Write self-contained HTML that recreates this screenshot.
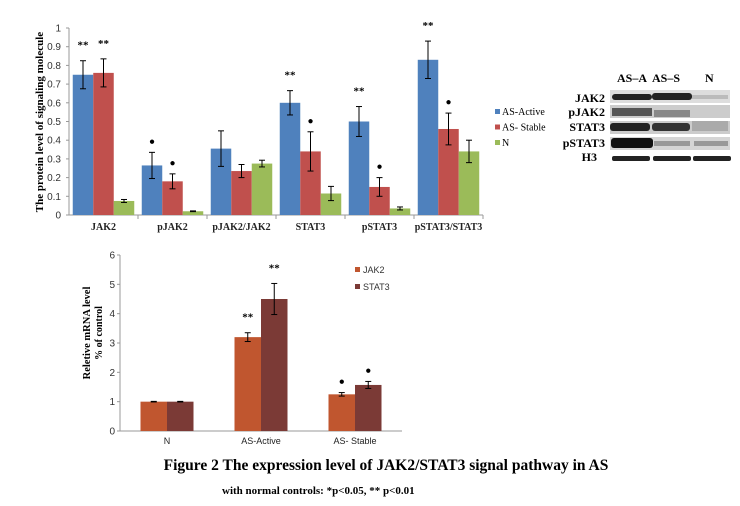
<!DOCTYPE html>
<html><head><meta charset="utf-8"><style>
body{margin:0;background:#fff;width:740px;height:506px;overflow:hidden}
svg{display:block}
.t{font-family:"Liberation Serif",serif}
.s{font-family:"Liberation Sans",sans-serif}
</style></head><body>
<svg id="fig" width="740" height="506" xmlns="http://www.w3.org/2000/svg">
<g id="topChart"></g>
<g id="botChart"></g>
<g id="blot">
 <text class="t" x="617" y="82" font-size="12" font-weight="bold">AS–A</text>
 <text class="t" x="652" y="82" font-size="12" font-weight="bold">AS–S</text>
 <text class="t" x="705" y="82" font-size="12" font-weight="bold">N</text>
 <text class="t" x="605" y="102" font-size="12" font-weight="bold" text-anchor="end">JAK2</text>
 <text class="t" x="605" y="116" font-size="12" font-weight="bold" text-anchor="end">pJAK2</text>
 <text class="t" x="605" y="131" font-size="12" font-weight="bold" text-anchor="end">STAT3</text>
 <text class="t" x="605" y="147" font-size="12" font-weight="bold" text-anchor="end">pSTAT3</text>
 <text class="t" x="597" y="161" font-size="12" font-weight="bold" text-anchor="end">H3</text>
 <rect x="610" y="90" width="120" height="13" fill="#ddd"/>
 <rect x="612" y="94" width="40" height="6" rx="3" fill="#222"/><rect x="652" y="93" width="40" height="7" rx="3" fill="#222"/><rect x="692" y="95" width="36" height="4" fill="#bbb"/>
 <rect x="610" y="105" width="120" height="13" fill="#ccc"/>
 <rect x="612" y="108" width="40" height="8" fill="#555"/><rect x="654" y="110" width="36" height="7" fill="#888"/>
 <rect x="610" y="121" width="120" height="13" fill="#ccc"/>
 <rect x="610" y="123" width="40" height="8" rx="3" fill="#222"/><rect x="652" y="123" width="38" height="8" rx="3" fill="#333"/><rect x="692" y="121" width="36" height="10" fill="#aaa"/>
 <rect x="610" y="137" width="120" height="13" fill="#d5d5d5"/>
 <rect x="611" y="138" width="42" height="10" rx="3" fill="#111"/><rect x="654" y="141" width="36" height="5" fill="#999"/><rect x="694" y="141" width="34" height="5" fill="#999"/>
 <rect x="612" y="156" width="38" height="5" rx="2" fill="#222"/><rect x="653" y="156" width="38" height="5" rx="2" fill="#222"/><rect x="693" y="156" width="38" height="5" rx="2" fill="#222"/>
</g>
<text class="t" x="386" y="470" font-size="15.5" font-weight="bold" text-anchor="middle">Figure 2 The expression level of JAK2/STAT3 signal pathway in AS</text>
<text class="t" x="222" y="494" font-size="11" font-weight="bold">with normal controls: *p&lt;0.05, ** p&lt;0.01</text>
</svg>
<script>
// ---- top chart data ----
const topCats = ["JAK2","pJAK2","pJAK2/JAK2","STAT3","pSTAT3","pSTAT3/STAT3"];
const topSeries = ["AS-Active","AS- Stable","N"];
const activeVals = [0.75,0.265,0.355,0.60,0.50,0.83];
const stableVals = [0.76,0.18,0.235,0.34,0.15,0.46];
const nVals = [0.075,0.02,0.275,0.115,0.035,0.34];
const activeErr = [0.075,0.07,0.095,0.065,0.08,0.1];
const stableErr = [0.075,0.04,0.035,0.105,0.05,0.085];
const nErr = [0.008,0.002,0.018,0.038,0.008,0.06];
const activeSig = ["**","*","","**","**","**"];
const stableSig = ["**","*","","*","*","*"];
const topTicks = [0,0.1,0.2,0.3,0.4,0.5,0.6,0.7,0.8,0.9,1];
// ---- bottom chart data ----
const botCats = ["N","AS-Active","AS- Stable"];
const botSeries = ["JAK2","STAT3"];
const jakVals = [1,3.2,1.25];
const statVals = [1,4.5,1.57];
const jakErr = [0.01,0.15,0.06];
const statErr = [0.01,0.53,0.12];
const jakSig = ["","**","*"];
const statSig = ["","**","*"];
const botTicks = [0,1,2,3,4,5,6];

const NS="http://www.w3.org/2000/svg";
function mk(parent,tag,attrs,text){const e=document.createElementNS(NS,tag);for(const k in attrs)e.setAttribute(k,attrs[k]);if(text!==undefined)e.textContent=text;parent.appendChild(e);return e;}

function drawChart(g,o){
  const y=v=>o.y0-(v-o.min)/(o.max-o.min)*(o.y0-o.y1);
  const band=(o.x1-o.x0)/o.cats.length;
  let ax=mk(g,'line',{x1:o.x0,y1:o.y0,x2:o.x0,y2:o.y1,stroke:'#999'});
  
  
  let xx=mk(g,'line',{x1:o.x0,y1:o.y0,x2:o.x1,y2:o.y0,stroke:'#999'});
  
  
  o.ticks.forEach(t=>{
    mk(g,'line',{x1:o.x0-3,x2:o.x0,y1:y(t),y2:y(t),stroke:'#999'});
    const lb=mk(g,'text',{x:o.x0-o.tickOff,y:y(t)+3.5,'font-size':10,'text-anchor':'end',fill:'#333',class:'s'},String(t));
    
    
  });
  o.cats.forEach((c,i)=>{
    const gx=o.x0+band*i;
    if(o.catTicks) mk(g,'line',{x1:gx+band,x2:gx+band,y1:o.y0,y2:o.y0+4,stroke:'#999'});
    const lb=mk(g,'text',{x:gx+band/2,y:o.y0+o.labOff,'font-size':o.catFs,'text-anchor':'middle','font-weight':o.catBold?'bold':'normal',class:o.catBold?'t':'s',fill:'#222'},c);
    
    
    const n=o.vals.length,start=gx+(band-n*o.bw)/2;
    o.vals.forEach((arr,s)=>{
      const bx=start+s*o.bw,v=arr[i],e=o.errs[s][i];
      const r=mk(g,'rect',{x:bx,y:y(v),width:o.bw,height:o.y0-y(v),fill:o.colors[s]});
      
      
      const cx=bx+o.bw/2;
      mk(g,'line',{x1:cx,x2:cx,y1:y(v+e),y2:y(v-e),stroke:'#000'});
      mk(g,'line',{x1:cx-3,x2:cx+3,y1:y(v+e),y2:y(v+e),stroke:'#000'});
      mk(g,'line',{x1:cx-3,x2:cx+3,y1:y(v-e),y2:y(v-e),stroke:'#000'});
      const sg=o.sigs[s]&&o.sigs[s][i];
      if(sg){
        const st=mk(g,'text',{x:cx,y:y(v+e)-(sg=='*'?8:12),'font-size':sg=='*'?10:11,'font-weight':'bold','text-anchor':'middle',class:'t'},sg=='*'?'●':'**');
        
        
      }
    });
  });
}
const topG=document.getElementById('topChart');
drawChart(topG,{x0:69,x1:483,y0:215,y1:28,min:0,max:1,ticks:topTicks,cats:topCats,series:topSeries,vals:[activeVals,stableVals,nVals],errs:[activeErr,stableErr,nErr],sigs:[activeSig,stableSig],colors:['#4F81BD','#C0504D','#9BBB59'],bw:20.5,labOff:15,catFs:10,catBold:true,catTicks:true,tickOff:8});
let yt=mk(topG,'text',{x:0,y:0,transform:'translate(43,122) rotate(-90)','font-size':11,'font-weight':'bold','text-anchor':'middle',class:'t'},'The protein level of signaling molecule');


const topCols=['#4F81BD','#C0504D','#9BBB59'];
topSeries.forEach((s,i)=>{
  const le=mk(topG,'g',{});
  
  
  mk(le,'rect',{x:495,y:109+i*15.5,width:5,height:5,fill:topCols[i]});
  mk(le,'text',{x:502,y:115+i*15.5,'font-size':10,class:'t'},s);
});
const botG=document.getElementById('botChart');
drawChart(botG,{x0:120,x1:402,y0:431,y1:255,min:0,max:6,ticks:botTicks,cats:botCats,series:botSeries,vals:[jakVals,statVals],errs:[jakErr,statErr],sigs:[jakSig,statSig],colors:['#C0562F','#7B3A36'],bw:26.5,labOff:13,catFs:9,catBold:false,catTicks:false,tickOff:5});
let yt2=mk(botG,'text',{x:0,y:0,transform:'translate(90,333) rotate(-90)','font-size':10.5,'font-weight':'bold','text-anchor':'middle',class:'t'},'Reletive mRNA level');


let yt3=mk(botG,'text',{x:0,y:0,transform:'translate(102,333) rotate(-90)','font-size':10,'font-weight':'bold','text-anchor':'middle',class:'t'},'% of control');


const botCols=['#C0562F','#7B3A36'];
botSeries.forEach((s,i)=>{
  const le=mk(botG,'g',{});
  
  
  mk(le,'rect',{x:355,y:267+i*17,width:5,height:5,fill:botCols[i]});
  mk(le,'text',{x:363,y:273+i*17,'font-size':9,class:'s',fill:'#333'},s);
});
</script>
</body></html>
